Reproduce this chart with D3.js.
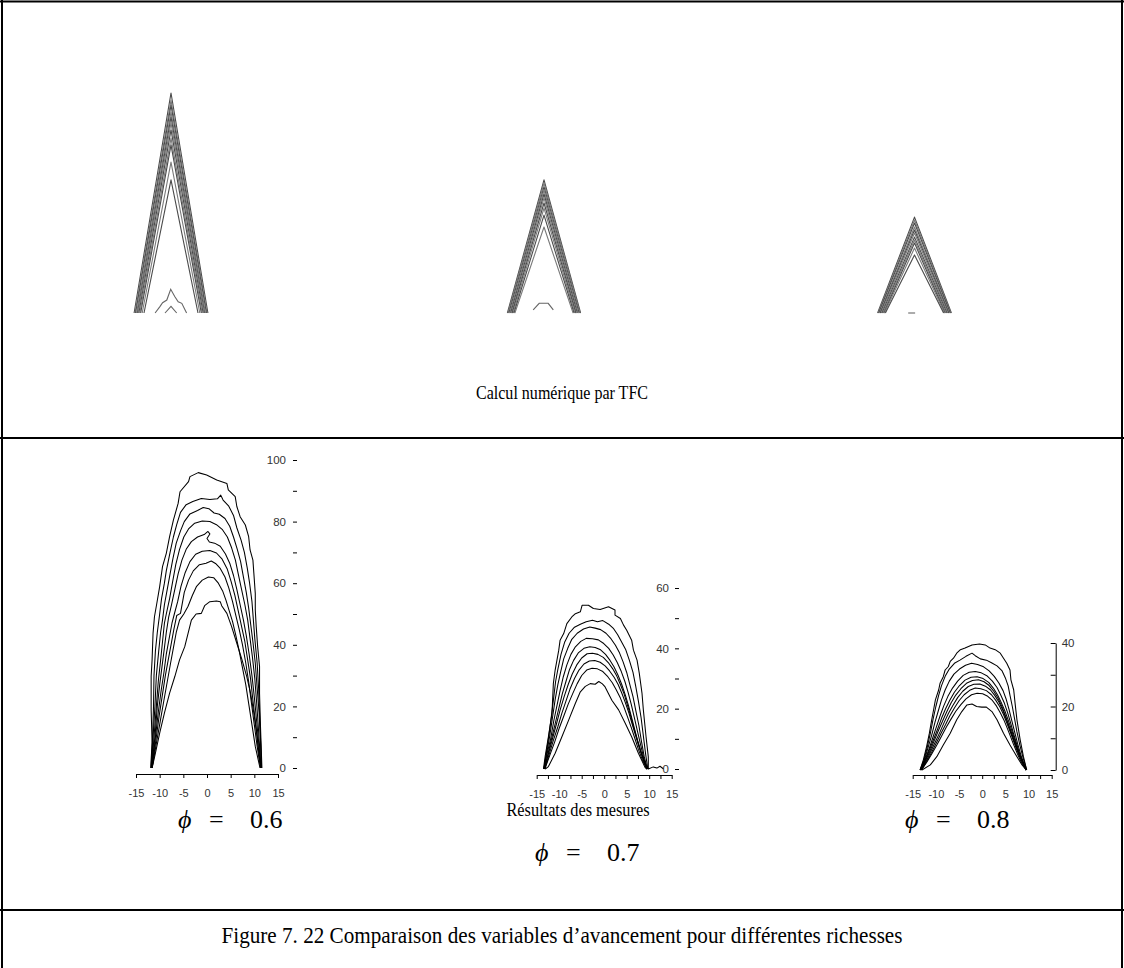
<!DOCTYPE html>
<html>
<head>
<meta charset="utf-8">
<script src="https://cdn.jsdelivr.net/npm/d3@7"></script>
<style>
  body { margin: 0; background: #fff; }
  svg { display: block; }
</style>
</head>
<body>
<svg id="fig" width="1124" height="968"></svg>
<script>
// ---- Richesses compared ----
const richesses = ["0.6", "0.7", "0.8"];

// ---- TFC computation: apex height (% of tallest) and base half-width (mm) of each iso-contour ----
const tfcApex06 = [100, 96.8, 94.5, 91.4, 89.1, 86.4, 83.2, 79.5, 76.4, 68.6, 60.5];
const tfcHalf06 = [12.3, 12.0, 11.8, 11.5, 11.2, 11.0, 10.7, 10.4, 10.1, 9.6, 9.0];
const tfcApex07 = [60.5, 59.1, 57.3, 55.9, 54.1, 52.3, 50.0, 47.7, 44.5, 39.1];
const tfcHalf07 = [12.2, 12.0, 11.7, 11.4, 11.1, 10.8, 10.6, 10.3, 10.0, 9.7];
const tfcApex08 = [43.6, 42.3, 40.9, 39.1, 37.7, 36.4, 34.5, 33.2, 31.8, 29.5, 26.4];
const tfcHalf08 = [12.3, 12.1, 11.9, 11.6, 11.4, 11.1, 10.8, 10.5, 10.2, 10.0, 9.7];
// small contours near the burner lip
const tfcLip06 = [
  [[-5.3, 0], [-3.7, 2.9], [-2.8, 4.7], [-1.4, 5.9], [-0.1, 10.8], [1.3, 7.4], [2.4, 5.1], [3.6, 4.4], [4.7, 1.4], [5.2, 0]],
  [[-2.0, 0], [0, 3.0], [1.9, 0]]
];
const tfcLip07 = [[[-3.6, 1.4], [-1.6, 4.4], [1.4, 4.4], [3.1, 1.4]]];
const tfcLip08 = [[[-2.1, 0], [0.2, 0]]];

// ---- Measured iso-contours [r (mm), h (mm)] ----
const mesure06 = [
  [[-11.9,0],[-11.6,8.2],[-11.8,18.9],[-11.8,29.7],[-11.6,35.1],[-11.4,43.7],[-11.1,49.1],[-10.6,53.5],[-10.0,58.9],[-9.4,65.4],[-8.6,69.7],[-7.9,75.1],[-7.1,80.5],[-6.1,85.9],[-5.7,89.7],[-3.9,93.0],[-3.6,94.6],[-1.85,95.9],[-0.07,95.1],[2.06,93.5],[4.2,92.4],[4.5,90.3],[5.96,88.1],[6.3,84.9],[7.0,81.6],[8.1,78.9],[8.8,75.1],[9.1,70.8],[9.7,67.5],[9.9,63.2],[10.2,56.7],[10.2,51.3],[10.4,45.9],[10.7,39.4],[11.1,32.9],[11.1,24.3],[11.3,13.5],[11.6,0]],
  [[-11.8,0],[-11.5,10],[-11.3,20],[-11.2,30],[-10.9,38],[-10.5,44],[-10.0,50],[-9.6,55],[-9.0,60],[-8.6,64],[-7.8,70],[-7.1,75],[-6.4,79],[-5.6,83],[-4.4,85.5],[-3.0,86.5],[-1.2,87.5],[0.6,87.2],[2.2,87.4],[2.9,88.6],[3.4,87],[4.6,85],[5.6,82],[6.3,78],[7.2,74],[7.9,70],[8.5,65],[9.0,60],[9.5,54],[9.8,48],[10.1,42],[10.6,34],[10.9,26],[11.1,18],[11.3,10],[11.5,0]],
  [[-11.7,0],[-11.4,10],[-11.0,20],[-10.7,30],[-10.2,38],[-9.8,44],[-9.4,48],[-9.0,53],[-8.4,58],[-7.8,63],[-7.2,68],[-6.5,73],[-5.6,77],[-4.8,80],[-3.6,82.5],[-2.0,83.6],[-0.8,84.6],[0.4,84.2],[1.5,82.8],[2.6,82.4],[3.8,81],[4.8,78.5],[5.6,75],[6.4,71],[7.1,67],[7.7,62],[8.3,57],[8.8,52],[9.2,47],[9.7,41],[10.2,34],[10.6,26],[11.0,18],[11.3,9],[11.5,0]],
  [[-11.7,0],[-11.2,10],[-10.7,20],[-10.3,28],[-9.8,35],[-9.4,41],[-9.0,47],[-8.6,50],[-7.9,55],[-7.2,61],[-6.6,66],[-5.8,71],[-4.9,75],[-3.9,77.6],[-2.6,79.5],[-1.0,80.2],[0.6,80.0],[2.0,79],[3.2,77.5],[4.3,75],[5.2,71.5],[6.0,67.5],[6.6,63],[7.3,58],[8.0,53],[8.6,48],[9.1,42],[9.6,36],[10.1,29],[10.5,21],[10.9,12],[11.4,0]],
  [[-11.7,0],[-11.0,10],[-10.5,20],[-10.0,27],[-9.5,33],[-9.0,39],[-8.6,44],[-8.1,49],[-7.5,53],[-6.8,58],[-6.1,63],[-5.3,67.5],[-4.4,71],[-3.3,73.5],[-2.0,75],[-0.6,75.8],[0.2,76.8],[0.6,76.0],[0.0,74.5],[0.5,73.4],[1.6,73],[2.8,72],[3.9,69.5],[4.8,66.5],[5.6,62.5],[6.3,58],[7.0,53],[7.7,48],[8.3,43],[8.9,37],[9.5,30],[10.0,23],[10.5,15],[11.0,7],[11.4,0]],
  [[-11.6,0],[-10.9,10],[-10.3,18],[-9.7,25],[-9.1,31],[-8.6,37],[-8.0,42],[-7.4,47],[-6.9,50],[-6.2,54],[-5.5,59],[-4.6,63.5],[-3.6,67],[-2.4,69.4],[-1.0,70.4],[0.6,70.6],[2.0,69.8],[3.2,67.8],[4.3,64.5],[5.1,60.5],[5.9,56],[6.6,51],[7.3,46],[8.0,41],[8.6,35],[9.2,29],[9.7,22],[10.3,14],[10.8,7],[11.4,0]],
  [[-11.6,0],[-10.8,9],[-10.1,17],[-9.4,24],[-8.8,30],[-8.2,35],[-7.6,40],[-7.0,45],[-6.4,49.5],[-5.6,50.2],[-4.8,57],[-3.9,61],[-2.9,64],[-1.6,66],[-0.2,66.5],[0.9,67.2],[1.8,66.4],[2.8,64.8],[3.8,62],[4.6,58.5],[5.4,54],[6.1,49.5],[6.8,45],[7.5,40],[8.2,34],[8.8,28],[9.4,21],[10.0,14],[10.6,7],[11.3,0]],
  [[-11.6,0],[-10.7,8],[-9.9,15],[-9.1,22],[-8.4,28],[-7.7,34],[-7.1,39],[-6.5,44],[-5.8,48],[-4.9,50],[-4.0,52.5],[-3.1,56],[-2.2,59],[-1.0,61],[0.3,62],[1.4,61.8],[2.4,60],[3.3,57.5],[4.0,54.5],[4.7,51],[5.4,47.5],[6.1,43],[6.8,38],[7.5,32.5],[8.2,27],[8.8,21],[9.5,14],[10.2,7],[11.2,0]],
  [[-11.6,0],[-10.9,4.8],[-10.0,11.3],[-9.0,17.8],[-7.9,24.3],[-6.8,29.7],[-5.8,35.1],[-4.7,39.4],[-4.0,43.7],[-3.3,48],[-2.3,50.0],[-1.2,50.2],[-0.5,52.7],[0.6,54],[2.0,54.2],[2.8,54],[3.1,52.7],[4.2,50.2],[5.2,45.9],[6.3,40.5],[7.4,35.1],[8.4,29.7],[9.2,24.3],[9.9,17.8],[10.6,10.3],[11.1,2.7],[11.4,0]]
];

const mesure07 = [
  [[-13.5,0],[-13.1,4.4],[-12.4,10.7],[-11.6,18.4],[-11.3,28.3],[-10.9,32.8],[-10.1,39.4],[-9.8,42.7],[-9.0,44.9],[-8.3,48.2],[-7.2,50.4],[-6.4,51.5],[-5.3,52.1],[-4.9,54.3],[-3.5,54.3],[-2.4,53.2],[-0.9,52.9],[0.96,53.8],[2.4,52.7],[2.4,51.0],[3.6,49.9],[4.3,47.7],[5.0,46.0],[6.1,42.7],[6.5,39.4],[7.3,36.1],[7.8,31.7],[8.4,25.1],[8.7,19.6],[9.3,10.7],[9.8,4.0],[9.8,0],[10.9,0.7],[11.7,0.3],[12.4,0.9],[13.2,0]],
  [[-13.4,0],[-12.9,5],[-12.3,11],[-11.7,18],[-11.2,24],[-10.8,29],[-10.3,33],[-9.6,38],[-8.8,42],[-7.8,45],[-6.6,47],[-5.3,48],[-4.0,48.8],[-2.6,49.3],[-1.5,48.8],[-0.3,49.2],[1.0,48],[2.1,46.5],[3.0,44.5],[3.9,42],[4.8,39.5],[5.6,36],[6.4,32],[7.0,27.5],[7.6,22.5],[8.2,17],[8.7,11],[9.2,5],[9.7,0]],
  [[-13.4,0],[-12.8,5],[-12.1,11],[-11.5,17],[-10.9,23],[-10.3,28],[-9.7,32],[-9.0,36.5],[-8.1,40],[-7.2,43],[-6.0,45],[-4.6,46.4],[-3.2,47.1],[-2.0,46.7],[-0.8,46.2],[0.4,45],[1.5,43.2],[2.5,41],[3.4,38.5],[4.2,35.5],[5.0,32],[5.7,28],[6.4,24],[7.0,19.5],[7.7,14.5],[8.3,9],[8.9,4],[9.6,0]],
  [[-13.4,0],[-12.7,5],[-11.9,10],[-11.2,16],[-10.5,21],[-9.8,26],[-9.1,30.5],[-8.3,34.5],[-7.4,38],[-6.4,40.5],[-5.2,42.3],[-4.0,43.3],[-2.6,43.2],[-1.3,42.8],[-0.1,41.6],[1.0,40],[2.0,37.8],[2.9,35.3],[3.8,32.3],[4.6,29],[5.3,25.5],[6.0,21.5],[6.7,17],[7.4,12.5],[8.1,8],[8.8,3.5],[9.6,0]],
  [[-13.3,0],[-12.5,5],[-11.7,10],[-10.9,15],[-10.1,20],[-9.3,25],[-8.5,29],[-7.7,33],[-6.8,36],[-5.7,38.6],[-4.5,40],[-3.2,40.5],[-2.0,40.3],[-0.8,39.5],[0.3,38],[1.3,36],[2.2,33.8],[3.1,31],[3.9,28],[4.7,24.5],[5.4,21],[6.1,17],[6.8,13],[7.5,9],[8.3,5],[9.0,2],[9.6,0]],
  [[-13.3,0],[-12.4,5],[-11.5,10],[-10.6,15],[-9.8,19.5],[-8.9,24],[-8.0,28],[-7.1,31.5],[-6.1,34.5],[-5.0,36.8],[-3.8,38.2],[-2.6,38.4],[-1.4,38],[-0.2,37],[0.9,35.3],[1.9,33.2],[2.8,30.8],[3.6,28],[4.4,25],[5.1,21.5],[5.8,18],[6.5,14],[7.2,10.5],[8.0,6.5],[8.8,3],[9.5,0]],
  [[-13.2,0],[-12.2,5],[-11.3,9.5],[-10.3,14],[-9.4,18.5],[-8.5,22.5],[-7.6,26.5],[-6.6,30],[-5.6,32.8],[-4.5,34.8],[-3.3,35.8],[-2.1,36],[-0.9,35.4],[0.2,34.2],[1.2,32.5],[2.2,30.4],[3.1,28],[3.9,25.2],[4.7,22],[5.5,18.5],[6.2,15],[7.0,11],[7.8,7],[8.6,3.5],[9.5,0]],
  [[-13.2,0],[-12.1,4.5],[-11.0,9],[-10.0,13.5],[-9.0,17.5],[-8.0,21.5],[-7.0,25],[-6.0,28.3],[-5.0,31],[-3.9,32.8],[-2.7,33.4],[-1.5,33.2],[-0.3,32.3],[0.8,30.6],[1.8,28.6],[2.7,26.2],[3.6,23.5],[4.4,20.5],[5.2,17.2],[6.0,13.8],[6.8,10.2],[7.6,6.5],[8.5,3],[9.5,0]],
  [[-13.1,0],[-12.4,0.8],[-10.9,5.2],[-9.4,10.7],[-7.9,16.2],[-6.4,21.8],[-5.3,25.6],[-4.2,27.4],[-3.1,28.3],[-2.0,28.1],[-1.2,29],[-0.4,28.2],[0.2,27.2],[1.7,22.8],[3.2,19.6],[4.7,15.1],[6.1,10.7],[7.6,5.2],[9.1,0.5],[9.5,0]]
];

const mesure08 = [
  [[-13.4,0],[-12.7,3.2],[-12.0,7.4],[-11.4,11.6],[-10.9,15.8],[-10.5,18.9],[-10.1,22.1],[-9.4,25.2],[-9.1,27.3],[-8.4,29.4],[-8.0,31.5],[-7.3,32.6],[-6.9,34.2],[-6.2,35.2],[-5.5,36.8],[-4.7,37.9],[-3.7,38.4],[-2.2,39.4],[-0.58,39.7],[0.65,39.4],[1.7,38.4],[2.8,37.9],[3.9,36.8],[4.6,35.2],[5.3,33.6],[6.0,31.5],[6.2,28.4],[6.8,25.2],[7.1,21.0],[7.5,15.8],[8.2,9.5],[8.9,4.2],[9.6,0]],
  [[-13.4,0],[-12.6,3],[-11.9,7],[-11.2,11.5],[-10.6,16],[-10.0,20],[-9.4,23.5],[-8.8,26.5],[-8.0,29.5],[-7.1,31.8],[-6.0,33.6],[-4.8,34.6],[-3.5,35.8],[-2.2,36.8],[-1.5,36],[-0.4,35],[0.9,34.6],[2.0,33.8],[3.2,32.8],[4.3,31.2],[5.0,29],[5.6,26.5],[6.0,23.5],[6.5,20],[7.0,16],[7.5,12],[8.1,8],[8.8,4],[9.6,0]],
  [[-13.4,0],[-12.5,3],[-11.7,7],[-10.9,11],[-10.2,15],[-9.5,18.5],[-8.8,22],[-8.0,25.2],[-7.1,28],[-6.1,30.2],[-4.9,31.8],[-3.6,33],[-2.3,33.6],[-1.0,33.2],[0.3,32.5],[1.5,31.2],[2.6,29.5],[3.6,27.4],[4.5,25],[5.2,22.2],[5.8,19],[6.4,15.5],[7.0,12],[7.7,8],[8.5,4],[9.5,0]],
  [[-13.3,0],[-12.4,3],[-11.5,6.5],[-10.7,10],[-9.9,13.5],[-9.1,17],[-8.3,20.2],[-7.4,23.2],[-6.4,25.8],[-5.3,28],[-4.1,29.8],[-2.8,30.8],[-1.5,31],[-0.2,30.6],[1.1,29.6],[2.2,28],[3.2,26],[4.0,23.6],[4.8,21],[5.5,18],[6.1,15],[6.7,11.8],[7.4,8.4],[8.2,4.6],[9.0,1.8],[9.5,0]],
  [[-13.3,0],[-12.3,3],[-11.4,6.3],[-10.5,9.6],[-9.6,13],[-8.8,16.2],[-7.9,19.3],[-7.0,22],[-6.0,24.5],[-4.9,26.6],[-3.7,28.3],[-2.4,29.2],[-1.1,29.4],[0.2,28.8],[1.4,27.6],[2.4,25.8],[3.3,23.7],[4.1,21.3],[4.9,18.6],[5.6,15.8],[6.3,12.8],[7.0,9.6],[7.7,6.4],[8.5,3.2],[9.5,0]],
  [[-13.2,0],[-12.2,3],[-11.2,6.2],[-10.3,9.4],[-9.4,12.6],[-8.5,15.6],[-7.6,18.5],[-6.7,21.2],[-5.7,23.6],[-4.6,25.6],[-3.4,27.3],[-2.1,28.2],[-0.8,28.4],[0.4,27.8],[1.5,26.6],[2.5,24.8],[3.4,22.7],[4.2,20.2],[4.9,17.5],[5.6,14.7],[6.3,11.8],[7.0,8.8],[7.8,5.8],[8.6,2.8],[9.5,0]],
  [[-13.2,0],[-12.1,2.8],[-11.1,5.8],[-10.1,8.9],[-9.1,12],[-8.2,15],[-7.3,17.8],[-6.3,20.4],[-5.3,22.8],[-4.2,24.8],[-3.0,26.3],[-1.8,27],[-0.5,27.1],[0.7,26.4],[1.8,25.2],[2.7,23.5],[3.6,21.4],[4.4,19],[5.1,16.4],[5.8,13.6],[6.5,10.7],[7.2,7.8],[8.0,4.9],[8.8,2.2],[9.5,0]],
  [[-13.1,0],[-12.0,2.7],[-10.9,5.6],[-9.9,8.5],[-8.9,11.5],[-7.9,14.3],[-7.0,17],[-6.0,19.5],[-5.0,21.8],[-3.9,23.7],[-2.7,25.1],[-1.5,25.8],[-0.3,25.6],[0.9,25],[2.0,23.7],[2.9,22],[3.8,19.9],[4.6,17.5],[5.3,14.9],[6.0,12.2],[6.7,9.4],[7.4,6.6],[8.2,3.8],[9.0,1.4],[9.5,0]],
  [[-13.1,0],[-11.9,2.6],[-10.8,5.3],[-9.7,8.1],[-8.7,10.9],[-7.7,13.6],[-6.7,16.1],[-5.7,18.5],[-4.6,20.6],[-3.5,22.4],[-2.3,23.7],[-1.1,24.2],[0.1,24],[1.2,23.2],[2.2,21.9],[3.1,20.1],[3.9,18],[4.7,15.7],[5.4,13.2],[6.1,10.6],[6.8,7.9],[7.6,5.1],[8.4,2.5],[9.5,0]],
  [[-13.0,0],[-11.2,1.6],[-9.8,4.2],[-8.4,7.9],[-6.9,11.6],[-5.5,15.8],[-4.4,18.4],[-3.3,20.5],[-2.2,20.8],[-1.2,20.0],[-0.1,19.8],[0.9,19.8],[2.1,18.4],[3.2,15.8],[4.6,11.6],[6.0,7.9],[7.5,4.2],[8.6,1.6],[9.5,0]]
];

// ---- Axis ticks ----
const xTicks06 = [-15, -10, -5, 0, 5, 10, 15];
const xTicksFine = [-15, -12.5, -10, -7.5, -5, -2.5, 0, 2.5, 5, 7.5, 10, 12.5, 15];
const yTicks06 = [0, 10, 20, 30, 40, 50, 60, 70, 80, 90, 100];
const yTicks07 = [0, 10, 20, 30, 40, 50, 60];
const yTicks08 = [0, 10, 20, 30, 40];

// ---- Texts ----
const titreTFC = "Calcul numérique par TFC";
const titreMesures = "Résultats des mesures";
const legende = "Figure 7. 22  Comparaison des variables d’avancement pour différentes richesses";

const svg = d3.select("#fig");
const serif = "'Liberation Serif', 'Times New Roman', serif";
const sans = "'Liberation Sans', Arial, sans-serif";

svg.append("defs").append("filter").attr("id", "soft")
  .attr("x", "-5%").attr("y", "-5%").attr("width", "110%").attr("height", "110%")
  .append("feGaussianBlur").attr("stdDeviation", 0.5);

// ---- frame ----
const frame = svg.append("g").attr("stroke", "#000").attr("fill", "none");
frame.append("line").attr("x1", 0).attr("x2", 1124).attr("y1", 1.5).attr("y2", 1.5).attr("stroke-width", 2);
frame.append("line").attr("x1", 2).attr("x2", 2).attr("y1", 0).attr("y2", 968).attr("stroke-width", 2);
frame.append("line").attr("x1", 1122).attr("x2", 1122).attr("y1", 0).attr("y2", 968).attr("stroke-width", 2);
frame.append("line").attr("x1", 0).attr("x2", 1124).attr("y1", 438).attr("y2", 438).attr("stroke-width", 2);
frame.append("line").attr("x1", 0).attr("x2", 1124).attr("y1", 910).attr("y2", 910).attr("stroke-width", 2);

// ---- TFC iso-contours (top row) ----
const tfcFlames = [
  { cx: 171, apex: tfcApex06, half: tfcHalf06, lip: tfcLip06 },
  { cx: 544, apex: tfcApex07, half: tfcHalf07, lip: tfcLip07 },
  { cx: 914.5, apex: tfcApex08, half: tfcHalf08, lip: tfcLip08 }
];
const tfcY = d3.scaleLinear().domain([0, 100]).range([313, 93]);
const topG = svg.append("g").attr("filter", "url(#soft)").attr("fill", "none");
tfcFlames.forEach(f => {
  const x = d3.scaleLinear().domain([-15, 15]).range([f.cx - 45, f.cx + 45]);
  const line = d3.line().x(d => x(d[0])).y(d => tfcY(d[1]));
  const contours = f.apex.map((h, i) => [[-f.half[i], 0], [0, h], [f.half[i], 0]]);
  const g = topG.append("g");
  g.selectAll("path.c").data(contours).join("path")
    .attr("class", "c")
    .attr("d", line)
    .attr("stroke", (d, i) => i % 2 ? "#7a7a7a" : "#4a4a4a")
    .attr("stroke-width", 1.1)
    .attr("stroke-linejoin", "round");
  g.selectAll("path.lip").data(f.lip).join("path")
    .attr("class", "lip")
    .attr("d", line)
    .attr("stroke", "#666")
    .attr("stroke-width", 1.1);
});

svg.append("text")
  .attr("x", 562).attr("y", 399)
  .attr("text-anchor", "middle")
  .attr("font-family", serif).attr("font-size", 19)
  .attr("textLength", 172).attr("lengthAdjust", "spacingAndGlyphs")
  .text(titreTFC);

// ---- measured iso-contours (bottom row) ----
const panels = [
  { data: mesure06, x0: 136, x1: 278, xAxisY: 774, yDom: 100, yBot: 768, yTop: 460,
    xTicks: xTicks06, yTicks: yTicks06, yAxis: "left", yAxisX: 293, labelPad: 7 },
  { data: mesure07, x0: 536.7, x1: 671.7, xAxisY: 775, yDom: 60, yBot: 769, yTop: 588,
    xTicks: xTicksFine, yTicks: yTicks07, yAxis: "left", yAxisX: 675, labelPad: 6 },
  { data: mesure08, x0: 912.7, x1: 1051.7, xAxisY: 775, yDom: 40, yBot: 770, yTop: 643,
    xTicks: xTicksFine, yTicks: yTicks08, yAxis: "right", yAxisX: 1055.7, labelPad: 6 }
];

panels.forEach(p => {
  const x = d3.scaleLinear().domain([-15, 15]).range([p.x0, p.x1]);
  const y = d3.scaleLinear().domain([0, p.yDom]).range([p.yBot, p.yTop]);
  const line = d3.line().x(d => x(d[0])).y(d => y(d[1]));

  svg.append("g").attr("fill", "none")
    .selectAll("path").data(p.data).join("path")
    .attr("d", line)
    .attr("stroke", "#000")
    .attr("stroke-width", 1.05)
    .attr("stroke-linejoin", "round");

  // horizontal axis
  const xa = svg.append("g")
    .attr("transform", `translate(0,${p.xAxisY})`)
    .call(d3.axisBottom(x).tickValues(p.xTicks).tickSizeInner(4).tickSizeOuter(0).tickPadding(11)
      .tickFormat(d => d % 5 === 0 ? String(d) : ""));
  xa.select(".domain").attr("stroke", "#000").attr("stroke-width", 1);
  xa.selectAll(".tick line").attr("stroke", "#000");
  xa.selectAll("text").attr("font-family", sans).attr("font-size", 11).attr("fill", "#333");

  // vertical axis
  const lab = d => d % 20 === 0 ? String(d) : "";
  let ya;
  if (p.yAxis === "left") {
    ya = svg.append("g")
      .attr("transform", `translate(${p.yAxisX},0)`)
      .call(d3.axisLeft(y).tickValues(p.yTicks).tickSizeInner(-4).tickSizeOuter(0)
        .tickPadding(p.labelPad).tickFormat(lab));
    ya.select(".domain").remove();
  } else {
    ya = svg.append("g")
      .attr("transform", `translate(${p.yAxisX},0)`)
      .call(d3.axisRight(y).tickValues(p.yTicks).tickSizeInner(-5).tickSizeOuter(0)
        .tickPadding(p.labelPad).tickFormat(lab));
    ya.select(".domain").attr("stroke", "#000");
  }
  ya.selectAll(".tick line").attr("stroke", "#000");
  ya.selectAll("text").attr("font-family", sans).attr("font-size", 11.5).attr("fill", "#333");
});

svg.append("text")
  .attr("x", 578).attr("y", 816)
  .attr("text-anchor", "middle")
  .attr("font-family", serif).attr("font-size", 18)
  .attr("textLength", 143).attr("lengthAdjust", "spacingAndGlyphs")
  .text(titreMesures);

// richness labels: symbol, equals sign and value placed like a math line
const phiPos = [[178, 828], [535, 861], [905, 828]];
richesses.forEach((r, i) => {
  const [px, py] = phiPos[i];
  const t = svg.append("text")
    .attr("y", py)
    .attr("font-family", serif).attr("font-size", 26);
  t.append("tspan").attr("x", px).attr("font-style", "italic").text("ϕ");
  t.append("tspan").attr("x", px + 31).text("=");
  t.append("tspan").attr("x", px + 72).text(r);
});

// caption
svg.append("text")
  .attr("x", 562).attr("y", 943)
  .attr("text-anchor", "middle")
  .attr("font-family", serif).attr("font-size", 23)
  .attr("textLength", 681).attr("lengthAdjust", "spacingAndGlyphs")
  .text(legende);
</script>
</body>
</html>
